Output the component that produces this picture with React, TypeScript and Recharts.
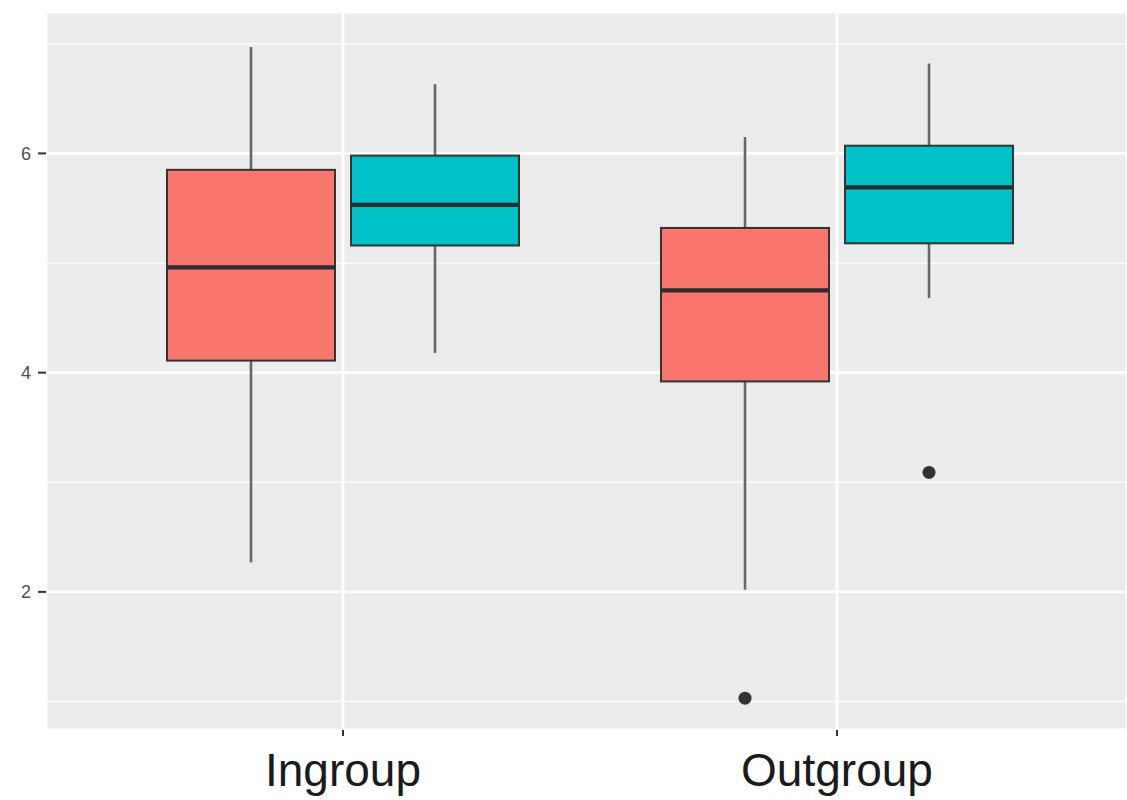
import React from 'react';
import { ComposedChart, Bar, XAxis, YAxis, CartesianGrid } from 'recharts';

const categories = ['Ingroup', 'Outgroup'];

// left (red) box in each group
const redLow = [2.27, 2.02];
const redQ1 = [4.11, 3.92];
const redMedian = [4.96, 4.75];
const redQ3 = [5.85, 5.32];
const redHigh = [6.97, 6.15];
const redOutliers: number[][] = [[], [1.03]];

// right (teal) box in each group
const tealLow = [4.18, 4.68];
const tealQ1 = [5.16, 5.18];
const tealMedian = [5.53, 5.69];
const tealQ3 = [5.98, 6.07];
const tealHigh = [6.63, 6.82];
const tealOutliers: number[][] = [[], [3.09]];

const majorTicks = [2, 4, 6];
const minorTicks = [1, 3, 5, 7];

const data = categories.map((name, i) => ({
  name,
  red: { low: redLow[i], q1: redQ1[i], median: redMedian[i], q3: redQ3[i], high: redHigh[i], outliers: redOutliers[i] },
  teal: { low: tealLow[i], q1: tealQ1[i], median: tealMedian[i], q3: tealQ3[i], high: tealHigh[i], outliers: tealOutliers[i] },
}));

// the bar spans low..high, so the y scale is linear within it
const makeBoxShape = (group: 'red' | 'teal', fill: string) => (props: any) => {
  const { x, y, width, height, payload } = props;
  const s = payload[group];
  const top = Math.min(y, y + height);
  const h = Math.abs(height);
  const per = h / (s.high - s.low);
  const py = (v: number) => top + (s.high - v) * per;
  const cx = x + width / 2;
  return (
    <g>
      <line x1={cx} x2={cx} y1={py(s.high)} y2={py(s.q3)} stroke="#666666" strokeWidth={2.6} />
      <line x1={cx} x2={cx} y1={py(s.q1)} y2={py(s.low)} stroke="#666666" strokeWidth={2.6} />
      <rect x={x} y={py(s.q3)} width={width} height={py(s.q1) - py(s.q3)} fill={fill} stroke="#333333" strokeWidth={2} />
      <line x1={x} x2={x + width} y1={py(s.median)} y2={py(s.median)} stroke="#2b2b2b" strokeWidth={4.2} />
      {s.outliers.map((o: number, i: number) => (
        <circle key={i} cx={cx} cy={py(o)} r={6.5} fill="#333333" />
      ))}
    </g>
  );
};

export default function App() {
  return (
    <div style={{ position: 'absolute', left: 0, top: 0, width: 1127, height: 800, background: '#fff' }}>
      <ComposedChart
        width={1127}
        height={800}
        data={data}
        margin={{ top: 12, right: 0, bottom: 0, left: 0 }}
        barGap={16}
        style={{ fontFamily: '"Liberation Sans", Arial, sans-serif' }}
      >
        <CartesianGrid fill="#EBEBEB" stroke="#ffffff" strokeWidth={2.8} />
        <CartesianGrid yAxisId="minor" vertical={false} stroke="#ffffff" strokeWidth={1.3} />
        <XAxis
          dataKey="name"
          padding={{ left: 50, right: 43 }}
          axisLine={false}
          tickSize={6}
          tickMargin={17}
          tickLine={{ stroke: '#333333', strokeWidth: 2 }}
          tick={{ fontSize: 46, fill: '#1a1a1a' }}
          height={70}
        />
        <YAxis
          domain={[0.74, 7.29]}
          ticks={majorTicks}
          allowDataOverflow
          axisLine={false}
          width={46}
          tickSize={8}
          tickMargin={7}
          tickLine={{ stroke: '#333333', strokeWidth: 2 }}
          tick={{ fontSize: 18, fill: '#4d4d4d' }}
        />
        <YAxis yAxisId="minor" domain={[0.74, 7.29]} ticks={minorTicks} allowDataOverflow hide />
        <Bar dataKey={(d: any) => [d.red.low, d.red.high]} barSize={168} fill="#F8766D" shape={makeBoxShape('red', '#F8766D')} isAnimationActive={false} />
        <Bar dataKey={(d: any) => [d.teal.low, d.teal.high]} barSize={168} fill="#00C2C6" shape={makeBoxShape('teal', '#00C2C6')} isAnimationActive={false} />
      </ComposedChart>
    </div>
  );
}
